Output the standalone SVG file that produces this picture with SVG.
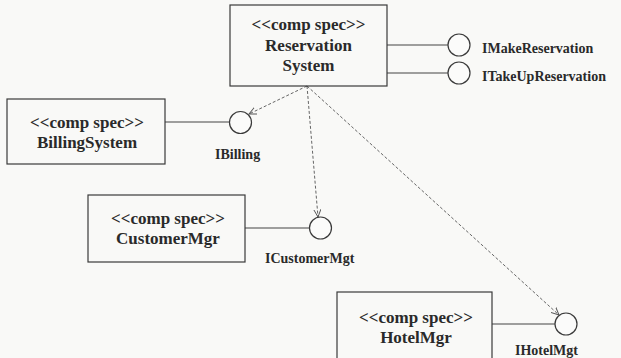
<svg xmlns="http://www.w3.org/2000/svg" width="621" height="358" viewBox="0 0 621 358">
  <style>
    .box { fill: none; stroke: #3a3a3a; stroke-width: 1.2; }
    .iface { fill: #fbfbfa; stroke: #3a3a3a; stroke-width: 1.2; }
    .conn { fill: none; stroke: #444; stroke-width: 1.1; }
    .dep { fill: none; stroke: #555; stroke-width: 0.9; stroke-dasharray: 3 2; }
    .name { font-family: "Liberation Serif", "DejaVu Serif", serif; font-size: 17px; font-weight: bold; fill: #2a2a2a; text-anchor: middle; }
    .lbl { font-family: "Liberation Serif", "DejaVu Serif", serif; font-size: 14px; font-weight: bold; fill: #2a2a2a; }
  </style>
  <defs>
    <marker id="open" viewBox="0 0 10 10" refX="9.5" refY="5" markerWidth="8" markerHeight="8" markerUnits="userSpaceOnUse" orient="auto">
      <path d="M0,0.5 L9.5,5 L0,9.5" fill="none" stroke="#555" stroke-width="1.2"/>
    </marker>
  </defs>
  <rect x="0" y="0" width="621" height="358" fill="#f9f9f7"/>

  <g id="connectors">
    <line class="conn" x1="387" y1="45" x2="448" y2="45"/>
    <line class="conn" x1="387" y1="73" x2="448" y2="73"/>
    <line class="conn" x1="165" y1="122" x2="229.5" y2="122"/>
    <line class="conn" x1="245" y1="228" x2="309.5" y2="228"/>
    <line class="conn" x1="492" y1="324" x2="555" y2="324"/>
    <line class="dep" x1="307" y1="86" x2="249" y2="114" marker-end="url(#open)"/>
    <line class="dep" x1="307" y1="86" x2="318" y2="217" marker-end="url(#open)"/>
    <line class="dep" x1="307" y1="86" x2="559" y2="315" marker-end="url(#open)"/>
  </g>

  <g id="reservation-system">
    <rect class="box" x="230" y="5" width="157" height="81"/>
    <text class="name" x="308.5" y="30">&lt;&lt;comp spec&gt;&gt;</text>
    <text class="name" x="308.5" y="51">Reservation</text>
    <text class="name" x="308.5" y="71">System</text>
  </g>

  <g id="IMakeReservation">
    <circle class="iface" cx="459" cy="45" r="11"/>
    <text class="lbl" x="482" y="53">IMakeReservation</text>
  </g>

  <g id="ITakeUpReservation">
    <circle class="iface" cx="459" cy="73" r="11"/>
    <text class="lbl" x="482" y="81">ITakeUpReservation</text>
  </g>

  <g id="billing-system">
    <rect class="box" x="7" y="99" width="158" height="65"/>
    <text class="name" x="87" y="128">&lt;&lt;comp spec&gt;&gt;</text>
    <text class="name" x="87" y="148">BillingSystem</text>
  </g>

  <g id="IBilling">
    <circle class="iface" cx="240.5" cy="122.5" r="11"/>
    <text class="lbl" x="215" y="159">IBilling</text>
  </g>

  <g id="customer-mgr">
    <rect class="box" x="88" y="195" width="157" height="67"/>
    <text class="name" x="168" y="224">&lt;&lt;comp spec&gt;&gt;</text>
    <text class="name" x="168" y="244">CustomerMgr</text>
  </g>

  <g id="ICustomerMgt">
    <circle class="iface" cx="320.5" cy="228" r="11"/>
    <text class="lbl" x="265" y="263">ICustomerMgt</text>
  </g>

  <g id="hotel-mgr">
    <rect class="box" x="337" y="292" width="155" height="80"/>
    <text class="name" x="416" y="323">&lt;&lt;comp spec&gt;&gt;</text>
    <text class="name" x="416" y="343">HotelMgr</text>
  </g>

  <g id="IHotelMgt">
    <circle class="iface" cx="566" cy="324" r="11"/>
    <text class="lbl" x="515" y="355">IHotelMgt</text>
  </g>
</svg>
